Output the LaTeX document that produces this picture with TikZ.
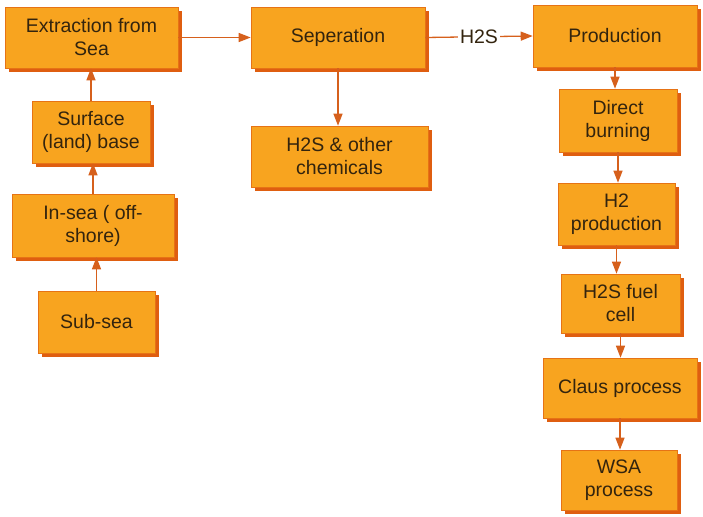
\documentclass[tikz,border=0pt]{standalone}
\usepackage{fontspec}
\setmainfont{Liberation Sans}
\usetikzlibrary{shadows,arrows.meta}
\definecolor{boxfill}{HTML}{F8A41F}
\definecolor{boxshade}{HTML}{DF5E10}
\definecolor{arrowc}{HTML}{D6601C}
\definecolor{textc}{HTML}{33240E}
\begin{document}
\begin{tikzpicture}[x=1pt, y=-1pt]
  \tikzstyle{stage}=[rectangle, draw=boxshade!70!boxfill, line width=.6pt, fill=boxfill,
    text=textc, align=center, font=\fontsize{19.5}{23}\selectfont, inner sep=0pt,
    drop shadow={shadow xshift=4pt, shadow yshift=-4pt, fill=boxshade, opacity=1}]
  \tikzstyle{flow}=[draw=arrowc, line width=1.3pt, -{Triangle[length=12pt, width=9pt]}]
  \useasboundingbox (0, 0) rectangle (703, 516);
  % left column
  \node[stage, minimum width=173pt, minimum height=61pt] (extract) at (91.5, 37.5) {Extraction from\\Sea};
  \node[stage, minimum width=118pt, minimum height=62pt] (surface) at (91, 132) {Surface\\(land) base};
  \node[stage, minimum width=162pt, minimum height=63pt] (insea) at (93, 225.5) {In-sea ( off-\\shore)};
  \node[stage, minimum width=117pt, minimum height=62pt] (subsea) at (96.5, 322) {Sub-sea};
  % middle column
  \node[stage, minimum width=174pt, minimum height=61pt] (sep) at (338, 37.5) {Seperation};
  \node[stage, minimum width=177pt, minimum height=61pt] (other) at (339.5, 156.5) {H2S \& other\\chemicals};
  % right column
  \node[stage, minimum width=164pt, minimum height=62pt] (prod) at (615, 36) {Production};
  \node[stage, minimum width=118pt, minimum height=63pt] (burn) at (618, 120.5) {Direct\\burning};
  \node[stage, minimum width=117pt, minimum height=62pt] (htwo) at (616.5, 214) {H2\\production};
  \node[stage, minimum width=119pt, minimum height=59pt] (cell) at (620.5, 303.5) {H2S fuel\\cell};
  \node[stage, minimum width=154pt, minimum height=60pt] (claus) at (620, 388) {Claus process};
  \node[stage, minimum width=116pt, minimum height=60pt] (wsa) at (619, 480) {WSA\\process};

  \draw[flow] (subsea.north) -- (subsea.north |- insea.south);
  \draw[flow] (insea.north) -- (insea.north |- surface.south);
  \draw[flow] (surface.north) -- (surface.north |- extract.south);
  \draw[flow] (extract.east) -- (sep.west);
  \draw[flow] (sep.south) -- (sep.south |- other.north);
  \draw[flow] (sep.east) -- node[fill=white, text=textc, inner sep=2pt,
    font=\fontsize{19.5}{23}\selectfont] (gas) {H2S} (prod.west);
  \draw[flow] (prod.south) -- (prod.south |- burn.north);
  \draw[flow] (burn.south) -- (burn.south |- htwo.north);
  \draw[flow] (htwo.south) -- (htwo.south |- cell.north);
  \draw[flow] (cell.south) -- (cell.south |- claus.north);
  \draw[flow] (claus.south) -- (claus.south |- wsa.north);
\end{tikzpicture}
\end{document}
